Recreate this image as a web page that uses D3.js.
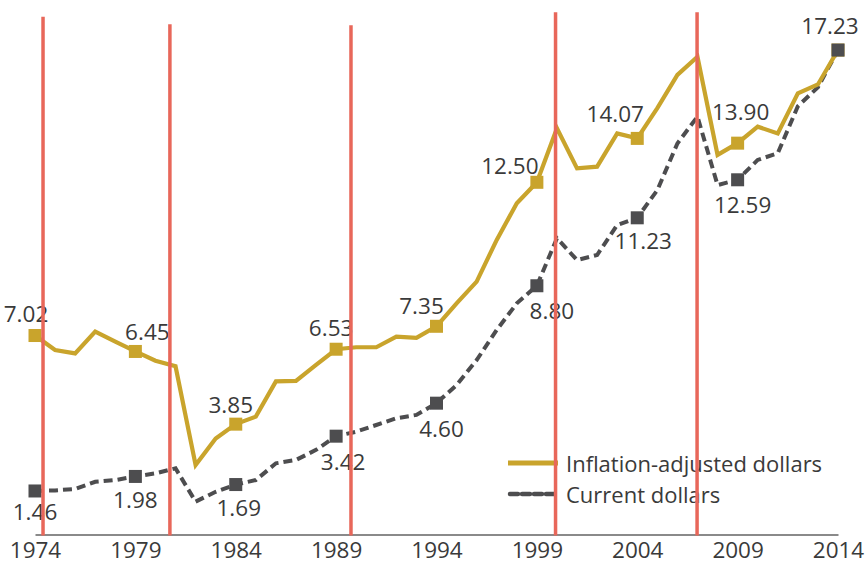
<!DOCTYPE html>
<html>
<head>
<meta charset="utf-8">
<script src="https://cdn.jsdelivr.net/npm/d3@7"></script>
<style>
  html, body { margin: 0; padding: 0; background: #fff; }
  svg { display: block; }
  text { font-family: "Open Sans", "Noto Sans", sans-serif; fill: #3a3a3a; }
</style>
</head>
<body>
<svg id="chart" width="865" height="567"></svg>
<script>
// ---- data ----
const years = d3.range(1974, 2015);
const inflationAdjusted = [
  7.02, 6.50, 6.38, 7.16, 6.80, 6.45, 6.12, 5.92, 2.39, 3.34,
  3.85, 4.12, 5.38, 5.40, 5.97, 6.53, 6.60, 6.60, 6.98, 6.94,
  7.35, 8.17, 8.95, 10.44, 11.75, 12.50, 14.43, 13.00, 13.06, 14.25,
  14.07, 15.15, 16.34, 16.99, 13.48, 13.90, 14.49, 14.25, 15.68, 16.00,
  17.23
];
const currentDollars = [
  1.46, 1.48, 1.53, 1.79, 1.85, 1.98, 2.09, 2.27, 1.08, 1.43,
  1.69, 1.85, 2.45, 2.57, 2.93, 3.42, 3.58, 3.82, 4.06, 4.18,
  4.60, 5.25, 6.14, 7.22, 8.17, 8.80, 10.50, 9.72, 9.90, 10.97,
  11.23, 12.22, 13.89, 14.85, 12.40, 12.59, 13.30, 13.54, 15.22, 15.90,
  17.23
];
const tickYears = [1974, 1979, 1984, 1989, 1994, 1999, 2004, 2009, 2014];
const inflationLabelYears = [1974, 1979, 1984, 1989, 1994, 1999, 2004, 2009, 2014];
const currentLabelYears = [1974, 1979, 1984, 1989, 1994, 1999, 2004, 2009];
const markerLines = [1974.4, 1980.72, 1989.74, 1999.93, 2006.98];
const markerLineTops = [18.42, 18.15, 18.12, 18.58, 18.58];
const seriesNames = ["Inflation-adjusted dollars", "Current dollars"];

// label placement (dx, dy relative to marker)
const inflationLabelOffsets = [[-9,-22],[12,-20],[-5,-20],[-5,-22],[-15,-21],[-27,-17],[-22,-25],[3,-32],[-8,-25]];
const currentLabelOffsets = [[0,21],[0,23],[3,23],[7,25],[5,25],[15,25],[6,23],[5,25]];

// ---- chart ----
const svg = d3.select("#chart");
const x = d3.scaleLinear().domain([1974, 2014]).range([35, 838]);
const y = d3.scaleLinear().domain([0, 19]).range([531.8, 0.56]);

const gold = "#c9a42c";
const gray = "#4d4d4f";
const red = "#e8675a";
const fs = "22.5px";

const infData = years.map((yr, i) => ({ year: yr, v: inflationAdjusted[i] }));
const curData = years.map((yr, i) => ({ year: yr, v: currentDollars[i] }));

// axis
const axis = d3.axisBottom(x).tickValues(tickYears).tickFormat(d3.format("d"))
  .tickSize(0).tickSizeOuter(0).tickPadding(8);
const gAxis = svg.append("g").attr("transform", "translate(0,534.5)").call(axis);
gAxis.select(".domain").attr("stroke", "#8a8a8a").attr("stroke-width", 2);
gAxis.selectAll("text").style("font-size", fs)
  .style("font-family", "'Open Sans', sans-serif").attr("fill", "#3a3a3a");

const line = d3.line().x(d => x(d.year)).y(d => y(d.v));

// current dollars (dashed)
svg.append("path").datum(curData)
  .attr("d", line).attr("fill", "none")
  .attr("stroke", gray).attr("stroke-width", 4)
  .attr("stroke-dasharray", "9,5");

// inflation adjusted
svg.append("path").datum(infData)
  .attr("d", line).attr("fill", "none")
  .attr("stroke", gold).attr("stroke-width", 4.2)
  .attr("stroke-linejoin", "miter");

const ms = 13;
// gold markers
svg.selectAll("rect.inf").data(infData.filter(d => inflationLabelYears.includes(d.year)))
  .enter().append("rect").attr("class", "inf")
  .attr("x", d => x(d.year) - ms / 2).attr("y", d => y(d.v) - ms / 2)
  .attr("width", ms).attr("height", ms).attr("fill", gold);

// gray markers
svg.selectAll("rect.cur").data(curData.filter(d => tickYears.includes(d.year)))
  .enter().append("rect").attr("class", "cur")
  .attr("x", d => x(d.year) - ms / 2).attr("y", d => y(d.v) - ms / 2)
  .attr("width", ms).attr("height", ms).attr("fill", gray);

// labels
inflationLabelYears.forEach((yr, i) => {
  const v = inflationAdjusted[years.indexOf(yr)];
  svg.append("text")
    .attr("x", x(yr) + inflationLabelOffsets[i][0])
    .attr("y", y(v) + inflationLabelOffsets[i][1])
    .attr("text-anchor", "middle").attr("dominant-baseline", "central")
    .style("font-size", fs)
    .text(v.toFixed(2));
});
currentLabelYears.forEach((yr, i) => {
  const v = currentDollars[years.indexOf(yr)];
  svg.append("text")
    .attr("x", x(yr) + currentLabelOffsets[i][0])
    .attr("y", y(v) + currentLabelOffsets[i][1])
    .attr("text-anchor", "middle").attr("dominant-baseline", "central")
    .style("font-size", fs)
    .text(v.toFixed(2));
});

// legend
const lg = svg.append("g").attr("transform", "translate(508,463)");
lg.append("line").attr("x1", 0).attr("x2", 50).attr("y1", 0).attr("y2", 0)
  .attr("stroke", gold).attr("stroke-width", 5);
lg.append("text").attr("x", 58).attr("y", 0).attr("dominant-baseline", "central")
  .style("font-size", "22px").text(seriesNames[0]);
lg.append("line").attr("x1", 2).attr("x2", 50).attr("y1", 31).attr("y2", 31)
  .attr("stroke", gray).attr("stroke-width", 4.5).attr("stroke-dasharray", "8,4")
  .attr("stroke-linecap", "round");
lg.append("text").attr("x", 58).attr("y", 31).attr("dominant-baseline", "central")
  .style("font-size", "22px").text(seriesNames[1]);

// red vertical lines (on top)
svg.selectAll("line.mark").data(markerLines).enter().append("line")
  .attr("class", "mark")
  .attr("x1", d => x(d)).attr("x2", d => x(d))
  .attr("y1", (d, i) => y(markerLineTops[i])).attr("y2", 535.5)
  .attr("stroke", red).attr("stroke-width", 3.5);
</script>
</body>
</html>
